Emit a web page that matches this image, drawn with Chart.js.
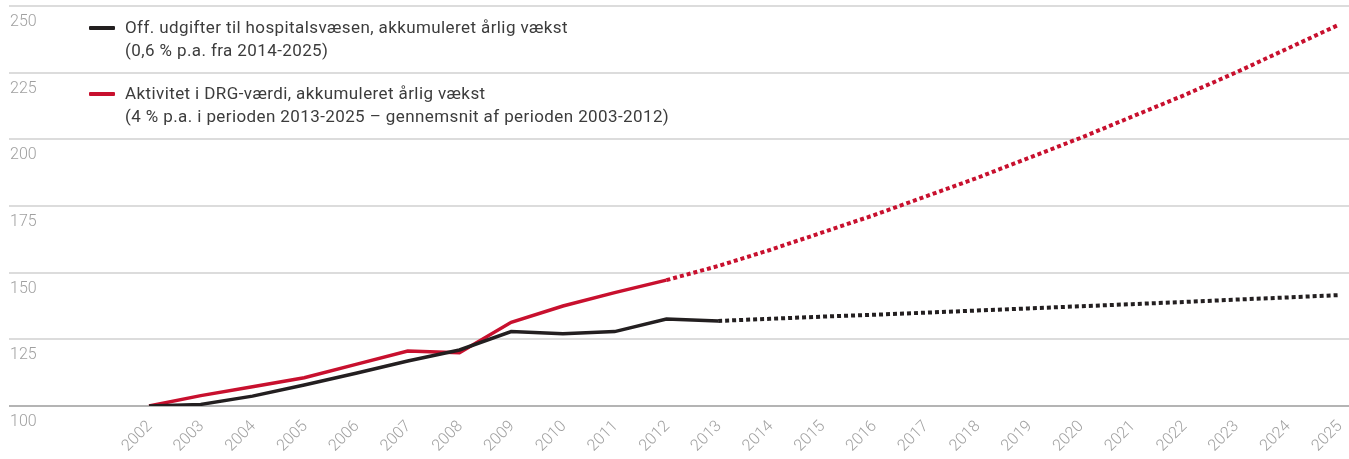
<!DOCTYPE html>
<html lang="da">
<head>
<meta charset="utf-8">
<title>Hospitalsudgifter og DRG-aktivitet</title>
<script src="https://cdn.jsdelivr.net/npm/chart.js@4"></script>
<style>
    html, body { margin: 0; padding: 0; background: #fff; overflow: hidden; }
    #wrap { position: relative; width: 1349px; height: 459px; }
    canvas { display: block; }
    #legend {
        position: absolute; left: 89px; top: 16px;
        font-family: Roboto, sans-serif; font-size: 17px; line-height: 23px; letter-spacing: 0.4px; color: #3c3c3c;
    }
    .item { position: relative; padding-left: 36px; margin-bottom: 20px; }
    .swatch { position: absolute; left: 0; top: 10px; width: 26px; height: 4px; border-radius: 1px; }
</style>
</head>
<body>
<div id="wrap">
    <canvas id="myChart" width="1349" height="459"></canvas>
    <div id="legend">
        <div class="item"><span class="swatch" style="background:#231f20"></span>Off. udgifter til hospitalsvæsen, akkumuleret årlig vækst<br>(0,6 % p.a. fra 2014-2025)</div>
        <div class="item"><span class="swatch" style="background:#c8102e"></span>Aktivitet i DRG-værdi, akkumuleret årlig vækst<br>(4 % p.a. i perioden 2013-2025 – gennemsnit af perioden 2003-2012)</div>
    </div>
</div>
<script>
const years = [2002, 2003, 2004, 2005, 2006, 2007, 2008, 2009, 2010, 2011, 2012, 2013,
    2014, 2015, 2016, 2017, 2018, 2019, 2020, 2021, 2022, 2023, 2024, 2025];

// index 2002 = 100
const udgifter = [100, 100.6, 103.7, 107.9, 112.3, 116.9, 121, 127.9, 127.1, 127.9, 132.6, 131.9,
    132.7, 133.5, 134.2, 135, 135.8, 136.6, 137.4, 138.2, 139, 139.9, 140.7, 141.6];
const drgVaerdi = [100, 103.9, 107.2, 110.6, 115.6, 120.6, 120, 131.4, 137.5, 142.5, 147.2, 152.5,
    158.5, 165, 171.5, 178.5, 185.5, 193, 200.5, 208.5, 216.5, 225, 234, 243];

// first year of the dotted (projected) part
const prognoseUdgifter = 2013;
const prognoseDrg = 2012;

const yTicks = [100, 125, 150, 175, 200, 225, 250];

const toPoints = arr => arr.map((v, i) => ({ x: years[i], y: v }));
const dotted = start => ({
    borderDash: ctx => ctx.p0.parsed.x >= start ? [4, 3] : undefined,
    borderWidth: ctx => ctx.p0.parsed.x >= start ? 4 : undefined
});

const data = {
    datasets: [{
        label: 'Off. udgifter til hospitalsvæsen',
        data: toPoints(udgifter),
        borderColor: '#231f20',
        borderWidth: 3.5,
        pointRadius: 0,
        tension: 0,
        segment: dotted(prognoseUdgifter)
    }, {
        label: 'Aktivitet i DRG-værdi',
        data: toPoints(drgVaerdi),
        borderColor: '#c8102e',
        borderWidth: 3.5,
        pointRadius: 0,
        tension: 0,
        segment: dotted(prognoseDrg)
    }]
};

const noPad = scale => {
    scale.paddingLeft = 0;
    scale.paddingRight = 0;
    scale.paddingTop = 0;
    scale.paddingBottom = 0;
};

const config = {
    type: 'line',
    data: data,
    options: {
        responsive: false,
        animation: false,
        layout: { padding: { left: 9, top: 6, right: 0, bottom: 0 } },
        scales: {
            x: {
                type: 'linear',
                min: 1999.294,
                max: 2025.193,
                afterBuildTicks: scale => { scale.ticks = years.map(v => ({ value: v })); },
                afterFit: scale => { scale.height = 53; noPad(scale); },
                grid: { display: false },
                border: { display: false },
                ticks: {
                    autoSkip: false,
                    minRotation: 45,
                    maxRotation: 45,
                    padding: 3,
                    labelOffset: 1,
                    color: '#a0a0a0',
                    font: { family: 'Roboto', size: 16, weight: 300 },
                    callback: value => String(value)
                }
            },
            y: {
                min: 100,
                max: 250,
                afterBuildTicks: scale => { scale.ticks = yTicks.map(v => ({ value: v })); },
                afterFit: scale => { scale.width = 0; noPad(scale); },
                grid: {
                    drawTicks: false,
                    lineWidth: 2,
                    color: ctx => ctx.tick && ctx.tick.value === 100 ? '#b4b4b4' : '#dcdcdc'
                },
                border: { display: false },
                ticks: {
                    mirror: true,
                    padding: 1,
                    labelOffset: 16,
                    color: '#a0a0a0',
                    font: { family: 'Roboto', size: 16, weight: 300 }
                }
            }
        },
        plugins: {
            legend: { display: false },
            tooltip: { enabled: false }
        }
    }
};

const myChart = new Chart(
    document.getElementById('myChart'),
    config
);
</script>
</body>
</html>
